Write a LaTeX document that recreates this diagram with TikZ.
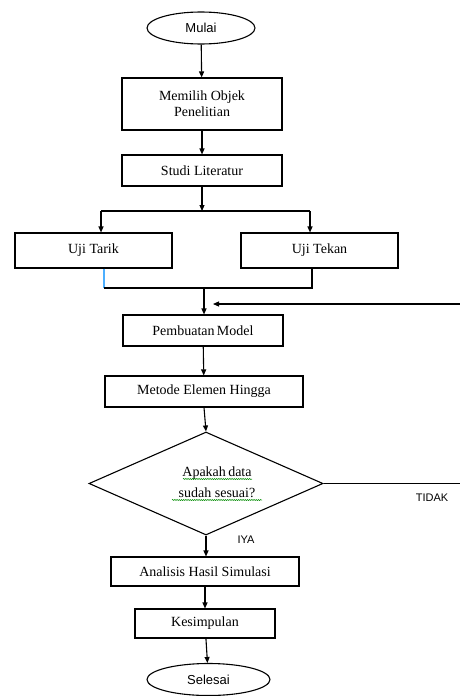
\documentclass[tikz,border=0pt]{standalone}
\usepackage{fontspec}
\setmainfont{Liberation Serif}
\newfontfamily\arialf{Liberation Sans}
\usetikzlibrary{shapes.geometric,arrows.meta,decorations.pathmorphing}
\tikzset{
  proc/.style={draw, line width=1.1pt, rectangle, inner sep=0pt, font=\fontsize{14}{16}\selectfont, align=center},
  term/.style={draw, line width=1.1pt, ellipse, inner sep=0pt, font=\arialf\fontsize{13}{15}\selectfont},
  dec/.style={draw, line width=1.1pt, diamond, inner sep=0pt},
  flow/.style={line width=1.1pt, -{Triangle[length=6pt,width=5pt]}},
  plain/.style={line width=1.1pt},
  lbl/.style={font=\arialf\fontsize{11}{13}\selectfont, inner sep=0pt},
  squig/.style={draw=green!55!black, line width=0.5pt, decorate, decoration={snake, amplitude=0.6pt, segment length=2.2pt}}
}
\begin{document}
\begin{tikzpicture}[x=1pt,y=-1pt]
\useasboundingbox (0,0) rectangle (460,696);
\fill[white] (0,0) rectangle (460,696);

\node[term, minimum width=108, minimum height=32] (mulai) at (201,28) {Mulai};
\node[proc, minimum width=160, minimum height=52] (obj) at (202,104) {Memilih Objek\\Penelitian};
\node[proc, minimum width=160, minimum height=31] (studi) at (202,170.5) {Studi Literatur};
\node[proc, minimum width=157, minimum height=35] (tarik) at (93.5,250.5) {Uji Tarik};
\node[proc, minimum width=157, minimum height=35] (tekan) at (319.5,250.5) {Uji Tekan};
\node[proc, minimum width=160, minimum height=31] (model) at (203,330.5) {Pembuatan\,Model};
\node[proc, minimum width=198, minimum height=31] (fem) at (204,391.5) {Metode Elemen Hingga};
\node[dec, minimum width=234, minimum height=103] (dia) at (206,483.5) {};
\node[font=\fontsize{14}{21}\selectfont, align=center, inner sep=0pt] (diatext) at (217,482) {Apakah\,data\\sudah sesuai?};
\node[proc, minimum width=188, minimum height=29] (anal) at (205,571.5) {Analisis Hasil Simulasi};
\node[proc, minimum width=140, minimum height=29] (kes) at (205,623.5) {Kesimpulan};
\node[term, minimum width=123, minimum height=32] (selesai) at (208.5,679.5) {Selesai};

\node[lbl] (tidak) at (432,498) {TIDAK};
\node[lbl] (iya) at (246,540) {IYA};

% squiggly underlines
\draw[squig] (183,479) -- (252,479);
\draw[squig] (172,500) -- (262,500);

\coordinate (split) at (202,211);
\coordinate (sl) at (101,211);
\coordinate (sr) at (310,211);
\coordinate (jl) at (104,288);
\coordinate (jr) at (312,288);
\coordinate (jm) at (204,288);
\coordinate (fb) at (460,304);
\coordinate (fbend) at (213,304);
\coordinate (no) at (460,483.5);

\draw[flow] (mulai) -- (obj);
\draw[flow] (obj) -- (studi);
\draw[flow] (studi.south) -- (split);
\draw[plain] (sl) -- (sr);
\draw[flow] (sl) -- (sl |- tarik.north);
\draw[flow] (sr) -- (sr |- tekan.north);
\draw[line width=1.1pt, color=blue!45!cyan!70!white] (jl |- tarik.south) -- (jl);
\draw[plain] (jl) -- (jr) -- (jr |- tekan.south);
\draw[flow] (jm) -- (jm |- model.north);
\draw[flow] (fb) -- (fbend);
\draw[flow] (model) -- (fem);
\draw[flow] (fem.south) -- (dia.north);
\draw[plain] (dia.east) -- (no);
\draw[flow] (dia.south) -- (anal.north -| dia.south);
\draw[flow] (anal) -- (kes);
\draw[flow] (kes) -- (selesai);
\end{tikzpicture}
\end{document}
